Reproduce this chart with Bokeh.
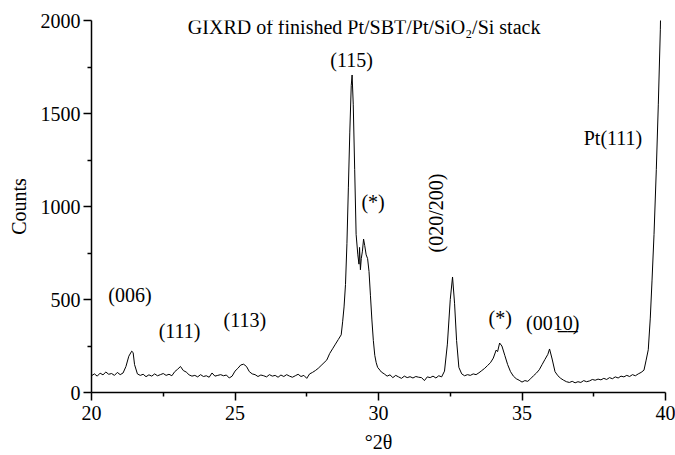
from bokeh.plotting import figure
from bokeh.models import ColumnDataSource, Label, Range1d, FixedTicker
from bokeh.core.properties import value
from bokeh.embed import file_html
from bokeh.resources import INLINE

# ---- data ----
two_theta = [
    20.0, 20.1, 20.2, 20.3, 20.4, 20.5, 20.6, 20.7, 20.8, 20.9, 21.0, 21.1,
    21.2, 21.3, 21.4, 21.45, 21.5, 21.6, 21.7,
    21.8, 21.9, 22.0, 22.1, 22.2, 22.3, 22.4, 22.5, 22.6, 22.7, 22.8,
    22.9, 23.0, 23.1, 23.2, 23.3, 23.4, 23.5, 23.6, 23.7, 23.8, 23.9, 24.0,
    24.1, 24.2, 24.3, 24.4, 24.5, 24.6, 24.7, 24.8, 24.9,
    25.0, 25.1, 25.2, 25.3, 25.4, 25.5, 25.6, 25.7, 25.8, 25.9, 26.0, 26.1,
    26.2, 26.3, 26.4, 26.5, 26.6, 26.7, 26.8, 26.9, 27.0, 27.1, 27.2, 27.3,
    27.4, 27.5, 27.6, 27.7, 27.8, 27.9, 28.0, 28.1, 28.2, 28.3, 28.4, 28.5,
    28.6, 28.7, 28.75, 28.8, 28.85, 28.9, 28.95, 29.0, 29.05, 29.08, 29.12,
    29.17, 29.22, 29.28, 29.32, 29.34, 29.37, 29.4, 29.44, 29.48, 29.52,
    29.57, 29.62, 29.67, 29.72, 29.77, 29.82, 29.87, 29.92, 29.97, 30.05,
    30.1, 30.2, 30.3, 30.4, 30.5, 30.6, 30.7, 30.8, 30.9, 31.0, 31.1, 31.2,
    31.3, 31.4, 31.5, 31.6, 31.7, 31.8, 31.9, 32.0, 32.1, 32.2, 32.3, 32.4,
    32.5, 32.58, 32.65, 32.72, 32.8, 32.9, 33.0, 33.1, 33.2, 33.3, 33.4,
    33.5, 33.6, 33.7, 33.8, 33.9, 34.0, 34.1, 34.15, 34.22, 34.3, 34.4,
    34.5, 34.6, 34.7, 34.8, 34.9, 35.0, 35.1, 35.2, 35.3, 35.4, 35.5, 35.6,
    35.7, 35.8, 35.9, 35.96, 36.05, 36.15, 36.25, 36.35, 36.45, 36.55,
    36.65, 36.75, 36.85, 36.95, 37.05, 37.15, 37.25, 37.35, 37.45, 37.55,
    37.65, 37.75, 37.85, 37.95, 38.05, 38.15, 38.25, 38.35, 38.45, 38.55,
    38.65, 38.75, 38.85, 38.95, 39.05, 39.15, 39.25, 39.32, 39.4, 39.47,
    39.53, 39.6, 39.68, 39.75, 39.82, 39.86,
]
counts = [
    90, 100, 88, 104, 95, 110, 98, 102, 92, 108, 96, 105,
    140, 195, 222, 215, 150, 100, 92,
    98, 85, 95, 88, 100, 90, 96, 102, 92, 98, 90,
    112, 125, 140, 118, 110, 95, 88, 92, 84, 96, 86, 90,
    82, 105, 88, 92, 96, 90, 94, 78, 88,
    115, 130, 148, 152, 140, 112, 100, 96, 86, 94, 90, 84,
    96, 88, 92, 82, 94, 86, 96, 88, 82, 90, 98, 86,
    92, 76, 100, 108, 118, 130, 145, 160, 175, 210, 235, 260,
    285, 310, 380, 460, 580, 800, 1100, 1400, 1650, 1707, 1550,
    1200, 850, 740, 690, 780, 660, 720, 760, 825, 790,
    740, 720, 650, 520, 390, 280, 200, 160, 135, 120,
    110, 100, 88, 95, 80, 92, 84, 76, 88, 80, 85, 78,
    86, 82, 80, 64, 84, 80, 88, 78, 90, 84, 115, 260,
    500, 621, 480, 280, 135, 100, 90, 96, 92, 100, 96,
    106, 118, 130, 145, 160, 185, 228, 220, 266, 250, 200,
    150, 112, 88, 74, 66, 56, 64, 60, 74, 90, 104, 122,
    150, 178, 205, 234, 180, 112, 90, 76, 66, 58,
    54, 60, 52, 58, 54, 64, 58, 62, 70, 66,
    72, 68, 76, 70, 80, 74, 84, 78, 88, 84,
    92, 86, 96, 90, 100, 108, 120, 170, 230, 400,
    600, 850, 1200, 1550, 1950, 2300,
]

peak_labels = ["(006)", "(111)", "(113)", "(115)", "(*)", "(020/200)", "(*)",
               "(00" + "1\u0332" + "0\u0332" + ")", "Pt(111)"]
label_x = [21.34, 23.07, 25.34, 29.06, 29.81, 32.02, 34.24, 36.07, 38.17]
label_y = [524, 332, 390, 1788, 1024, 965, 400, 373, 1368]
label_angle = [0, 0, 0, 0, 0, 1.5708, 0, 0, 0]

title_text = "GIXRD of finished Pt/SBT/Pt/SiO\u2082/Si stack"
x_title = "\u00b02\u03b8"
y_title = "Counts"
x_ticks = [20, 25, 30, 35, 40]
x_minor = [22.5, 27.5, 32.5, 37.5]
y_ticks = [0, 500, 1000, 1500, 2000]
y_minor = [250, 750, 1250, 1750]

FONT = "Liberation Serif"

p = figure(width=675, height=455, output_backend="svg", toolbar_location=None,
           x_range=Range1d(20, 40), y_range=Range1d(0, 2000),
           min_border_left=91, min_border_right=10, min_border_top=20,
           min_border_bottom=63)
p.outline_line_color = None
p.xgrid.visible = False
p.ygrid.visible = False
p.background_fill_color = "white"
p.border_fill_color = "white"

p.line(two_theta, counts, line_color="black", line_width=1)

src = ColumnDataSource(dict(x=label_x, y=label_y, t=peak_labels, a=label_angle))
p.text(x="x", y="y", text="t", angle="a", source=src, text_font=value(FONT),
       text_font_size="20px", text_align="center", text_baseline="middle",
       text_color="black")

p.add_layout(Label(x=29.5, y=1965, text=title_text, text_font=FONT,
                   text_font_size="20px", text_align="center",
                   text_baseline="middle", text_color="black"))

for ax in (p.xaxis[0], p.yaxis[0]):
    ax.axis_line_width = 1.5
    ax.axis_line_color = "black"
    ax.major_tick_line_color = "black"
    ax.minor_tick_line_color = "black"
    ax.major_tick_line_width = 1.5
    ax.minor_tick_line_width = 1.5
    ax.major_tick_out = 8
    ax.major_tick_in = 0
    ax.minor_tick_out = 4
    ax.minor_tick_in = 0
    ax.major_label_text_font = FONT
    ax.major_label_text_font_size = "20px"
    ax.major_label_text_color = "black"
    ax.axis_label_text_font = FONT
    ax.axis_label_text_font_size = "20px"
    ax.axis_label_text_font_style = "normal"
    ax.axis_label_text_color = "black"

p.xaxis[0].ticker = FixedTicker(ticks=x_ticks, minor_ticks=x_minor)
p.yaxis[0].ticker = FixedTicker(ticks=y_ticks, minor_ticks=y_minor)
p.xaxis[0].axis_label = x_title
p.yaxis[0].axis_label = y_title
p.xaxis[0].major_label_standoff = 5
p.yaxis[0].major_label_standoff = 3
p.xaxis[0].axis_label_standoff = 8
p.yaxis[0].axis_label_standoff = 8

open("out.html", "w").write(file_html(p, INLINE))
